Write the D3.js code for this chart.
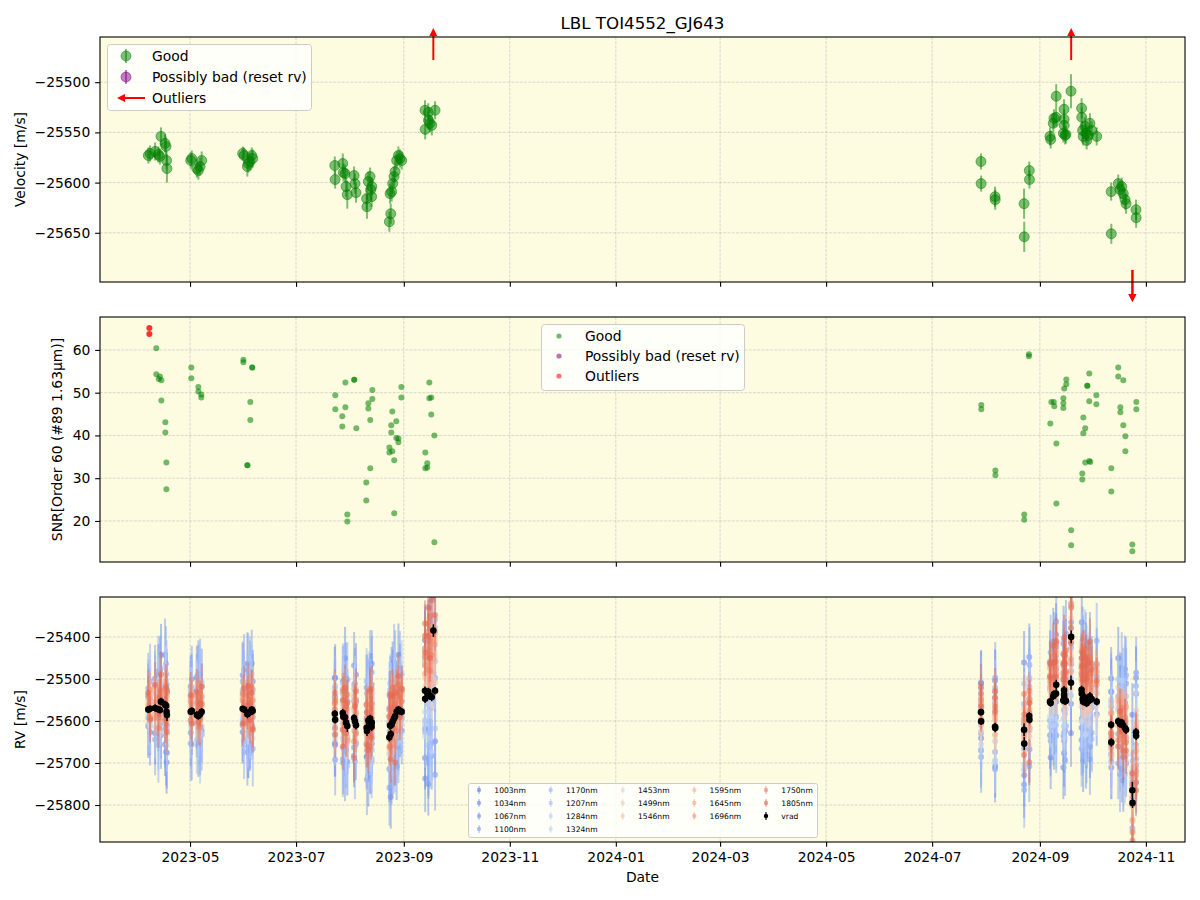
<!DOCTYPE html>
<html>
<head>
<meta charset="utf-8">
<script src="https://cdn.jsdelivr.net/npm/d3@7"></script>
<style>
  body { margin: 0; background: #fff; }
  svg { font-family: "DejaVu Sans", sans-serif; }
</style>
</head>
<body>
<svg id="fig" width="1200" height="900"></svg>
<script>
// epochs (fractional day of month), vrad and its error
const dates = [
  "2023-04-07","2023-04-08","2023-04-10.9","2023-04-12.8","2023-04-13.7","2023-04-14.3","2023-04-16.6","2023-04-17.2","2023-04-17.5","2023-04-17.7",
  "2023-05-01.4","2023-05-02","2023-05-04.9","2023-05-05.8","2023-05-06.8","2023-05-07.7",
  "2023-05-31.3","2023-06-01.1","2023-06-03","2023-06-03.5","2023-06-04.5","2023-06-05.5","2023-06-06.1",
  "2023-07-23.3","2023-07-23.5","2023-07-27.9","2023-07-28.2","2023-07-29.2","2023-07-29.8","2023-07-30.5","2023-08-03.4","2023-08-03.9","2023-08-04.5",
  "2023-08-10.6","2023-08-10.8","2023-08-11.6","2023-08-12.6","2023-08-13","2023-08-13.5","2023-08-13.6","2023-08-23.7","2023-08-24.5","2023-08-24.1",
  "2023-08-25","2023-08-25.6","2023-08-26.4","2023-08-27","2023-08-27.9","2023-08-28.9","2023-08-29.8","2023-08-30.8",
  "2023-09-13.2","2023-09-13.3","2023-09-15.1","2023-09-15.2","2023-09-16.1","2023-09-17.1","2023-09-19","2023-09-18",
  "2024-07-29.1","2024-07-29.2","2024-08-06.2","2024-08-06.3","2024-08-22.9","2024-08-23","2024-08-25.9","2024-08-26",
  "2024-09-06.8","2024-09-07.2","2024-09-08.7","2024-09-09.1","2024-09-10.3","2024-09-10.4","2024-09-14.9","2024-09-14.95","2024-09-15","2024-09-14.5",
  "2024-09-15.5","2024-09-16","2024-09-18.9","2024-09-19","2024-09-25","2024-09-25.1","2024-09-25.6","2024-09-25.9","2024-09-26.9","2024-09-27.5",
  "2024-09-27.9","2024-09-28.9","2024-09-29.8","2024-09-30.8","2024-10-03.7",
  "2024-10-12","2024-10-12.1","2024-10-16.1","2024-10-17.1","2024-10-18.1","2024-10-19","2024-10-20","2024-10-20.6","2024-10-24.2","2024-10-24.3","2024-10-26.3","2024-10-26.4"
];
const vrad = [
  -25573,-25571,-25569,-25572,-25574,-25554,-25561,-25564,-25578,-25586,
  -25578,-25576,-25586,-25588,-25584,-25578,
  -25571,-25573,-25584,-25581,-25579,-25573,-25576,
  -25583,-25597,-25581,-25590,-25591,-25604,-25612,-25593,-25601,-25610,-25616,-25624,-25599,-25594,-25607,-25614,-25604,-25639,-25631,-25611,-25609,-25601,-25594,-25589,-25578,-25573,-25576,-25578,
  -25528,-25547,-25530,-25538,-25541,-25543,-25528,-25385,
  -25579,-25601,-25614,-25617,-25621,-25654,-25588,-25597,
  -25554,-25557,-25541,-25536,-25535,-25514,-25527,-25537,-25543,-25551,-25553,-25552,-25509,-25400,-25526,-25535,-25548,-25554,-25544,-25551,-25558,-25553,-25541,-25548,-25554,
  -25609,-25651,-25601,-25607,-25604,-25611,-25617,-25621,-25765,-25795,-25627,-25635
];
const vErr = [
  8,8,9,8,8,9,9,9,9,14,
  8,8,9,9,9,9,
  7,8,10,9,9,8,9,
  9,9,10,9,9,10,14,9,10,10,11,12,10,9,10,10,9,10,10,10,10,10,10,11,9,9,9,9,
  10,10,9,9,9,10,9,15,
  8,8,10,10,15,15,9,9,
  9,9,9,9,9,12,10,10,9,9,9,9,17,15,10,10,9,9,9,9,9,9,10,9,9,
  9,10,9,9,9,10,10,10,20,12,10,10
];
const outliers = [58, 80, 100, 101];

// SNR of order 60
const snrDates = [
  "2023-04-07.6","2023-04-07.6","2023-04-11.6","2023-04-11.6","2023-04-13.7","2023-04-13","2023-04-14.5","2023-04-14.5","2023-04-16.8","2023-04-16.8",
  "2023-04-17.4","2023-04-17.4","2023-05-01.75","2023-05-01.75","2023-05-05.8","2023-05-05.8","2023-05-07.5","2023-05-07.5","2023-05-31.7","2023-05-31.7",
  "2023-06-05.8","2023-06-05.8","2023-06-04.7","2023-06-04.7","2023-06-03","2023-06-03",
  "2023-07-23.6","2023-07-23.6","2023-07-29.4","2023-07-29.4","2023-07-27.6","2023-07-27.6","2023-07-30.5","2023-07-30.5","2023-08-03.5","2023-08-03.5",
  "2023-08-04.7","2023-08-13.9","2023-08-13.9","2023-08-11.6","2023-08-11.6","2023-08-12.7","2023-08-12.7","2023-08-10.4","2023-08-10.4",
  "2023-08-30.6","2023-08-30.6","2023-08-25.4","2023-08-25.4","2023-08-27.7","2023-08-27.7","2023-08-24.8","2023-08-24.8","2023-08-28.9","2023-08-28.9",
  "2023-08-23.7","2023-08-23.7","2023-08-26.5","2023-08-26.5",
  "2023-09-15.7","2023-09-15.7","2023-09-16.8","2023-09-16.8","2023-09-18.6","2023-09-18.6","2023-09-13.4","2023-09-13.4","2023-09-14.5","2023-09-14.5",
  "2024-08-25.7","2024-08-25.7","2024-07-29.3","2024-07-29.3","2024-08-06.4","2024-08-06.4","2024-08-23","2024-08-23",
  "2024-09-07","2024-09-07.6","2024-09-09","2024-09-09.3","2024-09-10.5","2024-09-10.5","2024-09-14.5","2024-09-14.5","2024-09-14.5","2024-09-15",
  "2024-09-16.2","2024-09-16.2","2024-09-19","2024-09-19","2024-09-26","2024-09-26","2024-09-27.1","2024-09-27.1","2024-09-29.4","2024-09-29.4","2024-09-29.4",
  "2024-09-30","2024-09-25.4","2024-09-25.4","2024-09-28.3","2024-09-28.3","2024-10-03.5","2024-10-03.5","2024-10-12.1","2024-10-12.1",
  "2024-10-16.1","2024-10-16.1","2024-10-19","2024-10-19","2024-10-17.3","2024-10-17.3","2024-10-20.2","2024-10-20.2","2024-10-26.5","2024-10-26.5","2024-10-24.2","2024-10-24.2"
];
const snrValues = [
  65.1,63.7,60.4,54.3,53.8,53.2,52.9,48.2,43.1,40.7,
  33.7,27.4,55.9,53.4,51.3,50.3,49.6,48.9,57.7,57.1,
  55.9,55.9,47.8,43.6,33.0,33.0,
  49.4,46.1,52.4,46.6,44.5,42.1,21.5,19.9,53.0,53.0,
  41.7,50.6,48.5,47.5,46.3,43.6,32.3,29.0,24.8,
  51.3,48.9,45.6,36.3,43.3,39.4,42.4,40.7,39.3,38.4,
  37.2,36.0,34.2,21.8,
  52.4,48.7,48.9,44.9,40.0,15.0,36.0,32.3,33.5,32.5,
  59.0,58.5,47.1,46.1,31.8,30.7,21.5,20.3,
  42.8,47.8,47.8,46.8,38.1,24.1,48.7,47.5,46.4,51.0,
  52.0,53.1,17.8,14.3,44.2,40.5,41.7,33.7,34.0,54.5,48.0,
  33.8,31.1,29.7,51.6,51.6,49.4,47.3,32.3,26.9,
  55.9,53.8,52.9,42.4,46.6,45.4,39.8,36.3,47.8,46.1,14.5,12.9
];
const snrOutliers = [0, 1];

// per-band RV, as offset from vrad at each epoch [m/s]
const bands = [1003,1034,1067,1100,1170,1207,1284,1324,1453,1499,1546,1595,1645,1696,1750,1805];
const bandErr = [75,80,85,90,80,70,65,75,45,42,40,38,38,40,45,55];
const rv1003 = [-40,25,-60,80,-15,110,-95,30,-120,55, 60,-30,90,-70,20,-45, -55,40,120,-80,15,-35,70,
  85,-60,30,-110,140,-25,60,-90,15,120,-70,45,-130,80,-20,100,-50,35,-150,70,-10,115,-85,40,-60,130,-35,25,
  -160,90,-220,150,-60,180,-120,20, 70,-40,110,-90,160,-75,40,-20,
  95,-130,60,-70,140,-40,20,-110,80,-160,30,120,-50,100,-90,170,-20,-140,60,110,-80,40,-120,75,-30,
  110,-60,150,-40,90,-130,60,-20,180,-100,130,-70];
const rv1034 = [30,-55,70,-20,95,-80,45,-110,15,60, -50,75,-20,100,-65,35, 80,-30,-90,55,-60,110,-15,
  -70,100,-40,65,-120,30,-85,125,-20,55,95,-60,20,-100,70,-30,140,-75,40,-50,105,-95,25,60,-130,15,80,-45,
  120,-190,60,-80,210,-140,30,-100, -50,90,-100,60,-130,25,140,-70,
  -80,50,130,-100,20,90,-150,65,-30,110,-70,160,-120,35,75,-60,140,-90,10,-130,85,-45,120,-20,60,
  -70,120,-30,90,-110,50,140,-80,20,70,-120,100];
const rv1067 = [50,-25,-75,90,10,-50,120,-35,65,-90, 35,-80,60,-15,95,-55, -40,95,-20,-70,85,-5,50,
  40,-95,75,10,-55,105,-30,-70,90,-45,20,-115,60,35,-80,130,-25,70,-60,15,-105,85,-40,120,5,-90,55,-15,
  -90,140,-170,70,-30,110,-200,160, 30,-85,70,120,-45,95,-120,50,
  60,-90,25,110,-55,150,-30,-100,45,85,-140,20,130,-65,40,-110,95,15,-75,125,-35,70,-150,30,90,
  -40,85,-100,55,130,-60,20,110,-90,40,-30,150];
const rv1100 = [-20,65,35,-85,50,15,-60,100,-40,20, -75,45,10,80,-30,60, 65,-75,30,100,-45,20,-90,
  -35,55,-110,85,20,-65,110,40,-95,60,-15,90,-50,120,25,-80,45,-120,95,10,65,-40,135,-70,30,-55,100,5,
  100,-80,130,-150,60,-110,170,-40, -90,40,-60,95,15,-110,70,130,
  -45,120,-75,35,90,-120,60,5,-85,135,50,-60,95,-25,-140,70,30,115,-50,80,-100,20,60,-80,145,
  80,-45,60,-120,25,95,-70,130,-35,60,110,-55];
const rv1170 = [40,-30,55,-65,-10,80,20,-50,90,-25, 50,15,-60,40,-85,70, -25,60,-55,35,100,-40,10,
  60,-20,45,-75,95,-50,15,80,-60,30,110,-35,70,-90,5,55,-65,100,-20,85,-45,25,-100,60,40,-75,20,90,
  -70,120,-30,90,-140,60,150,-110, 55,-70,30,85,-95,60,-35,100,
  30,90,-60,70,-100,45,120,-40,15,-85,105,60,-30,80,-120,40,95,-55,130,-10,-70,50,85,-95,20,
  -55,95,30,-80,70,-30,120,-60,45,100,-90,35];
const rv1207 = [-35,45,-15,70,25,-60,35,60,-80,10, -20,55,30,-50,65,-35, 45,-20,75,-60,30,85,-45,
  -50,80,-25,40,-70,60,-95,25,75,-40,55,-10,95,-55,35,-85,70,15,-60,100,-30,45,80,-110,20,65,-35,50,
  80,-60,110,-120,40,130,-90,20, -30,65,-80,40,110,-50,85,-20,
  -60,35,85,-25,60,-95,20,100,-70,45,-30,120,10,-80,65,30,-110,90,-45,55,115,-20,-65,40,75,
  60,-35,100,15,-70,50,-110,80,-20,65,40,-85];
const rv1284 = [25,-40,50,15,-55,40,-20,75,5,-45, 40,-25,70,-40,15,55, -30,50,-65,20,70,-10,40,
  35,-45,70,-15,50,-80,30,60,-35,85,-55,20,40,-70,90,-25,55,-40,10,75,-65,30,-20,95,-50,45,15,-30,
  -50,100,-20,70,-100,140,30,-75, 40,-55,95,-30,60,20,-70,75,
  50,-40,20,95,-60,35,-85,70,10,-45,90,-20,55,115,-75,25,-35,80,-90,40,60,-55,100,-15,30,
  -30,70,-60,45,100,-20,55,-75,85,-40,20,60];
const rv1324 = [-10,35,-45,55,20,-30,65,-20,40,-60, -35,30,50,-20,45,-55, 30,-45,15,60,-35,45,-65,
  -25,40,-60,75,10,-45,60,-30,80,-15,25,-70,50,15,-40,65,-85,30,95,-20,45,-55,70,0,-75,35,55,-10,
  60,-90,100,-40,20,-130,80,-60, -45,30,60,-80,25,95,-35,50,
  -35,65,-70,25,100,-20,45,-55,80,15,-90,60,30,-45,110,-65,20,70,-25,-80,40,90,-40,55,-10,
  45,-50,80,-25,30,70,-90,20,55,-65,95,-30];
const rv1453 = [15,-20,30,-10,25,5,-35,20,10,-25, 20,-15,10,30,-20,5, -15,25,10,-30,20,35,-5,
  20,-30,10,35,-15,25,-40,15,30,-20,5,40,-25,10,45,-10,20,-35,30,0,25,-45,15,35,-20,10,-30,40,
  40,80,20,110,60,-20,90,50, 10,-25,30,-15,20,40,-30,15,
  25,50,-10,35,60,15,-25,45,20,70,-15,30,55,5,40,-30,65,20,-5,50,35,-20,10,45,-35,
  -20,15,-40,25,-10,30,-50,10,-25,60,-35,20];
const rv1499 = [-10,25,5,35,-20,15,30,-15,40,0, -5,30,-20,15,35,-10, 20,-10,35,5,-25,15,30,
  -15,25,-35,20,40,-5,15,-30,25,50,-20,10,35,-40,20,30,-10,45,-25,15,-5,35,-45,20,40,-15,25,5,
  70,30,120,45,90,10,130,60, -15,20,-35,25,5,-20,35,-10,
  40,15,60,-5,30,75,20,-20,55,35,10,65,-15,45,25,80,-10,35,50,0,60,15,-30,40,20,
  10,-30,25,-15,35,-45,15,-20,40,-10,-55,30];
const rv1546 = [20,-5,40,10,-25,30,0,35,-15,25, 25,5,40,-10,20,30, -5,30,-20,40,10,-15,25,
  30,10,-20,45,5,35,-25,20,-40,15,50,-10,30,25,-30,40,5,-20,55,10,30,-35,45,-5,20,60,-15,35,
  90,50,140,30,110,70,20,150, 25,-10,45,5,-25,30,15,-40,
  55,30,-5,70,40,10,85,25,-15,60,45,20,75,-10,50,35,90,5,40,65,-20,30,55,15,70,
  -15,25,5,-35,20,-5,35,-25,15,-45,10,-65];
const rv1595 = [5,30,-15,25,45,-10,20,40,-5,15, 10,35,-15,25,5,40, 25,5,45,-15,35,20,-10,
  -5,40,20,-30,30,55,10,-15,45,25,-35,35,15,50,-20,25,60,-5,30,-25,50,20,-10,40,65,-30,15,45,
  60,110,40,150,80,30,120,170, 20,40,-20,30,50,10,-35,25,
  35,70,20,50,-10,80,40,15,60,30,95,5,45,70,25,-20,55,85,10,40,65,30,-5,75,50,
  25,-20,40,10,-30,50,5,-15,30,-40,20,-75];
const rv1645 = [30,10,50,-5,35,20,55,0,25,45, 30,15,50,0,40,20, 40,15,-5,50,25,55,5,
  25,50,-10,35,60,15,40,70,0,30,55,-20,45,20,65,10,-15,50,35,75,5,40,25,60,-5,45,30,55,
  100,60,160,90,40,130,70,190, 35,5,55,20,-15,45,30,60,
  60,40,85,20,55,100,35,70,10,90,45,65,25,80,50,110,15,60,75,30,95,40,55,20,70,
  5,40,-10,30,15,-25,45,0,-35,25,10,-85];
const rv1696 = [10,45,-25,30,5,-30,20,-15,50,-10, 25,-20,30,55,-10,15, 20,-35,30,10,50,-15,25,
  25,-20,55,-30,5,40,-35,50,-25,60,10,-45,30,15,-55,35,45,-25,20,-15,65,-40,30,55,-20,25,40,-5,
  130,80,100,170,60,140,110,210, 15,50,35,70,25,55,10,45,
  80,50,35,95,60,25,110,70,45,85,30,120,55,75,40,100,65,20,90,50,70,105,35,60,85,
  30,-10,50,20,-30,35,10,55,-15,40,-45,-95];
const rv1750 = [35,-20,15,-45,50,25,-15,40,-30,55, -20,35,10,45,-30,20, 35,-30,45,-15,20,50,-40,
  10,45,-40,60,-25,35,75,-55,40,-20,55,30,-60,70,-15,45,-35,65,25,-50,40,80,-25,30,-45,60,-10,50,
  80,150,120,60,190,100,140,230, 45,20,70,40,85,30,60,15,
  60,95,45,75,120,55,85,40,105,65,90,50,130,70,35,100,80,60,115,45,75,95,55,85,40,
  -20,20,-45,10,35,-60,25,-30,15,-70,5,-110];
const rv1805 = [40,-25,55,-10,30,65,-35,45,15,-40, 40,-30,55,-15,25,60, -35,50,20,65,-20,40,-45,
  50,-35,-80,40,70,-25,55,-95,35,80,-40,45,-70,65,-30,90,10,50,-60,75,-20,60,25,-110,45,80,-15,55,
  160,110,200,140,90,230,180,130, 60,35,85,50,-60,70,-110,40,
  90,60,120,75,40,105,65,135,80,50,110,70,95,125,55,85,45,115,75,100,60,90,130,70,50,
  -40,10,-60,30,-20,-75,15,-50,40,-90,-10,-130];
const bandOffsets = [rv1003,rv1034,rv1067,rv1100,rv1170,rv1207,rv1284,rv1324,
  rv1453,rv1499,rv1546,rv1595,rv1645,rv1696,rv1750,rv1805];

const velTicks = [-25650, -25600, -25550, -25500];
const snrTicks = [20, 30, 40, 50, 60];
const rvTicks = [-25800, -25700, -25600, -25500, -25400];

// ---------------------------------------------------------------
const pd = s => {
  const [y, m, d] = s.split('-').map(Number);
  return new Date(Date.UTC(y, m - 1, 1) + (d - 1) * 864e5);
};

const svg = d3.select('#fig');
const L = 100, R = 1185, PH = 245;
const FS = 13.89, TL = 4.86;
const bg = '#fdfce0';

const x = d3.scaleUtc().domain([pd('2023-03-10.2'), pd('2024-11-23.5')]).range([L, R]);
const xTicks = x.ticks(d3.utcMonth.every(2));

const coolwarm = d3.scaleLinear()
  .domain([0, 0.125, 0.25, 0.375, 0.5, 0.625, 0.75, 0.875, 1])
  .range(['#3b4cc0', '#6282ea', '#8db0fe', '#b8d0f9', '#dddddd', '#f5c4ad', '#f49a7b', '#de604d', '#b40426'])
  .interpolate(d3.interpolateRgb);
// wavelength -> colormap position
const wlPos = d3.scaleLinear().domain([bands[0], bands[bands.length - 1]]).range([0.12, 0.86]);
const bandColor = b => coolwarm(wlPos(b));

function makePanel(top, y, yTicks, showX, id) {
  const g = svg.append('g');
  g.append('rect').attr('x', L).attr('y', top).attr('width', R - L).attr('height', PH).attr('fill', bg);

  svg.append('clipPath').attr('id', id).append('rect')
    .attr('x', L).attr('y', top).attr('width', R - L).attr('height', PH);

  const grid = g.append('g').attr('stroke', '#b0b0b0').attr('stroke-opacity', 0.6)
    .attr('stroke-width', 0.8).attr('stroke-dasharray', '2.96,1.28');
  xTicks.forEach(t => grid.append('line').attr('x1', x(t)).attr('x2', x(t)).attr('y1', top).attr('y2', top + PH));
  yTicks.forEach(v => grid.append('line').attr('x1', L).attr('x2', R).attr('y1', y(v)).attr('y2', y(v)));

  const plot = g.append('g').attr('clip-path', `url(#${id})`);

  const xa = g.append('g').attr('transform', `translate(0,${top + PH})`)
    .call(d3.axisBottom(x).tickValues(xTicks).tickSize(TL).tickPadding(4.86)
      .tickFormat(showX ? d3.utcFormat('%Y-%m') : ''));
  const ya = g.append('g').attr('transform', `translate(${L},0)`)
    .call(d3.axisLeft(y).tickValues(yTicks).tickSize(TL).tickPadding(4.86).tickFormat(d3.format('d')));
  [xa, ya].forEach(a => {
    a.select('.domain').remove();
    a.selectAll('line').attr('stroke', '#000').attr('stroke-width', 1.1);
    a.selectAll('text').attr('font-size', FS).attr('fill', '#000').attr('font-family', 'DejaVu Sans');
  });
  return { g, plot, top };
}

// -------- top: velocity ----------
const yV = d3.scaleLinear().domain([-25699, -25455]).range([37 + PH, 37]);
const pV = makePanel(37, yV, velTicks, false, 'clipV');
const good = dates.map((d, i) => ({ t: pd(d), v: vrad[i], e: vErr[i], i }))
  .filter(p => !outliers.includes(p.i));
pV.plot.selectAll(null).data(good).join('line')
  .attr('x1', d => x(d.t)).attr('x2', d => x(d.t))
  .attr('y1', d => yV(d.v - d.e)).attr('y2', d => yV(d.v + d.e))
  .attr('stroke', 'green').attr('stroke-opacity', 0.5).attr('stroke-width', 2);
pV.plot.selectAll(null).data(good).join('circle')
  .attr('cx', d => x(d.t)).attr('cy', d => yV(d.v)).attr('r', 5)
  .attr('fill', 'green').attr('fill-opacity', 0.5)
  .attr('stroke', 'green').attr('stroke-opacity', 0.5).attr('stroke-width', 1);

function arrow(g, x0, y0, y1, col) {
  const dir = Math.sign(y1 - y0);
  g.append('line').attr('x1', x0).attr('x2', x0).attr('y1', y0).attr('y2', y1 - dir * 7)
    .attr('stroke', col).attr('stroke-width', 2);
  g.append('path').attr('d', `M${x0 - 4},${y1 - dir * 8} L${x0},${y1} L${x0 + 4},${y1 - dir * 8} Z`).attr('fill', col);
}
outliers.forEach(i => {
  const xx = x(pd(dates[i]));
  if (vrad[i] > yV.domain()[1]) arrow(svg, xx, 60, 28, 'red');
  else arrow(svg, xx, 270, 302, 'red');
});

// legend top
{
  const lg = svg.append('g');
  lg.append('rect').attr('x', 107.5).attr('y', 44.5).attr('width', 204).attr('height', 66).attr('rx', 3)
    .attr('fill', '#fff').attr('fill-opacity', 0.8).attr('stroke', '#ccc');
  const rows = [['Good', 'green', 56], ['Possibly bad (reset rv)', 'purple', 77]];
  rows.forEach(([t, c, yy]) => {
    lg.append('line').attr('x1', 126).attr('x2', 126).attr('y1', yy - 7).attr('y2', yy + 7)
      .attr('stroke', c).attr('stroke-opacity', 0.5).attr('stroke-width', 2);
    lg.append('circle').attr('cx', 126).attr('cy', yy).attr('r', 5).attr('fill', c).attr('fill-opacity', 0.5)
      .attr('stroke', c).attr('stroke-opacity', 0.5);
    lg.append('text').attr('x', 152).attr('y', yy + 5).attr('font-size', FS).text(t);
  });
  lg.append('line').attr('x1', 145).attr('x2', 124).attr('y1', 98).attr('y2', 98).attr('stroke', 'red').attr('stroke-width', 2);
  lg.append('path').attr('d', 'M125,94 L117,98 L125,102 Z').attr('fill', 'red');
  lg.append('text').attr('x', 152).attr('y', 103).attr('font-size', FS).text('Outliers');
}

// -------- middle: SNR ----------
const yS = d3.scaleLinear().domain([10.4, 67.7]).range([317 + PH, 317]);
const pS = makePanel(317, yS, snrTicks, false, 'clipS');
const snrPts = snrDates.map((d, i) => ({ t: pd(d), v: snrValues[i], bad: snrOutliers.includes(i) }));
pS.plot.selectAll(null).data(snrPts).join('circle')
  .attr('cx', d => x(d.t)).attr('cy', d => yS(d.v)).attr('r', 3)
  .attr('fill', d => d.bad ? 'red' : 'green').attr('fill-opacity', d => d.bad ? 0.8 : 0.55);
{
  const lg = svg.append('g');
  lg.append('rect').attr('x', 541.5).attr('y', 324.5).attr('width', 203).attr('height', 66).attr('rx', 3)
    .attr('fill', '#fff').attr('fill-opacity', 0.8).attr('stroke', '#ccc');
  [['Good', 'green', 336], ['Possibly bad (reset rv)', 'purple', 356], ['Outliers', 'red', 376]].forEach(([t, c, yy]) => {
    lg.append('circle').attr('cx', 559).attr('cy', yy).attr('r', 2.6).attr('fill', c).attr('fill-opacity', 0.55);
    lg.append('text').attr('x', 585).attr('y', yy + 5).attr('font-size', FS).text(t);
  });
}

// -------- bottom: per-band RV ----------
const yR = d3.scaleLinear().domain([-25888, -25305]).range([597 + PH, 597]);
const pR = makePanel(597, yR, rvTicks, true, 'clipR');
bands.forEach((b, w) => {
  const col = bandColor(b);
  const offs = bandOffsets[w];
  const pts = dates.map((d, i) => ({ t: pd(d), v: vrad[i] + offs[i], e: bandErr[w] }))
    .filter(p => !isNaN(p.v));
  const gb = pR.plot.append('g');
  gb.selectAll(null).data(pts).join('line')
    .attr('x1', d => x(d.t)).attr('x2', d => x(d.t))
    .attr('y1', d => yR(d.v - d.e)).attr('y2', d => yR(d.v + d.e))
    .attr('stroke', col).attr('stroke-opacity', 0.45).attr('stroke-width', 2);
  gb.selectAll(null).data(pts).join('circle')
    .attr('cx', d => x(d.t)).attr('cy', d => yR(d.v)).attr('r', 3)
    .attr('fill', col).attr('fill-opacity', 0.55);
});
const allV = dates.map((d, i) => ({ t: pd(d), v: vrad[i], e: vErr[i] }));
pR.plot.selectAll(null).data(allV).join('line')
  .attr('x1', d => x(d.t)).attr('x2', d => x(d.t))
  .attr('y1', d => yR(d.v - d.e)).attr('y2', d => yR(d.v + d.e))
  .attr('stroke', '#000').attr('stroke-width', 1.5);
pR.plot.selectAll(null).data(allV).join('circle')
  .attr('cx', d => x(d.t)).attr('cy', d => yR(d.v)).attr('r', 3.3).attr('fill', '#000');

// bottom legend, 5 columns
{
  const lg = svg.append('g');
  lg.append('rect').attr('x', 468.5).attr('y', 783.5).attr('width', 349).attr('height', 54).attr('rx', 2)
    .attr('fill', '#fff').attr('fill-opacity', 0.8).attr('stroke', '#ccc');
  const items = bands.map(b => ({ label: b + 'nm', col: bandColor(b), op: 0.6 }))
    .concat([{ label: 'vrad', col: '#000', op: 1 }]);
  const perCol = [4, 4, 3, 3, 3];
  const colX = [479, 550.7, 622.7, 694.3, 766];
  const rowY = [790, 803, 816, 829];
  let k = 0;
  perCol.forEach((n, c) => {
    for (let r = 0; r < n; r++, k++) {
      const it = items[k];
      lg.append('line').attr('x1', colX[c]).attr('x2', colX[c]).attr('y1', rowY[r] - 4).attr('y2', rowY[r] + 4)
        .attr('stroke', it.col).attr('stroke-opacity', it.op * 0.75).attr('stroke-width', 1.5);
      lg.append('circle').attr('cx', colX[c]).attr('cy', rowY[r]).attr('r', 2.2).attr('fill', it.col).attr('fill-opacity', it.op);
      lg.append('text').attr('x', colX[c] + 15.3).attr('y', rowY[r] + 2.8).attr('font-size', 7.6).text(it.label);
    }
  });
}

// spines on top of data
[37, 317, 597].forEach(t => {
  svg.append('rect').attr('x', L).attr('y', t).attr('width', R - L).attr('height', PH)
    .attr('fill', 'none').attr('stroke', '#000').attr('stroke-width', 1.1);
});

// titles and labels
svg.append('text').attr('x', (L + R) / 2).attr('y', 29).attr('text-anchor', 'middle')
  .attr('font-size', 16.67).text('LBL TOI4552_GJ643');
svg.append('text').attr('x', (L + R) / 2).attr('y', 882).attr('text-anchor', 'middle')
  .attr('font-size', FS).text('Date');
[['Velocity [m/s]', 25, 37], ['SNR[Order 60 (#89 1.63μm)]', 62, 317], ['RV [m/s]', 25, 597]].forEach(([t, xx, top]) => {
  svg.append('text').attr('transform', `translate(${xx},${top + PH / 2}) rotate(-90)`)
    .attr('text-anchor', 'middle').attr('font-size', FS).text(t);
});
</script>
</body>
</html>
